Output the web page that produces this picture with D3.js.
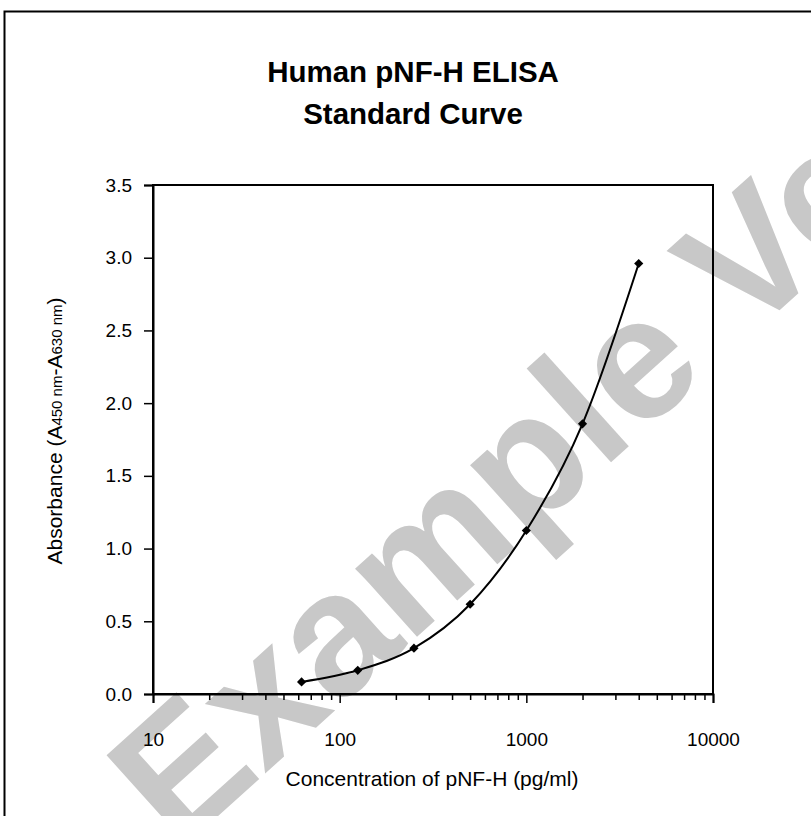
<!DOCTYPE html>
<head>
    <meta charset="utf-8" />
    <script src="https://d3js.org/d3.v7.min.js"></script>
    <style>
        body {
            margin: 0;
            background: #fff;
        }
        svg text {
            font-family: "Liberation Sans", Arial, sans-serif;
            fill: #000;
        }
    </style>
</head>
<body>
<div id="chart"></div>
<script>
    const concentrations = [62.5, 125, 250, 500, 1000, 2000, 4000];
    const absorbances = [0.083, 0.163, 0.315, 0.617, 1.124, 1.858, 2.96];
    const yTicks = [0, 0.5, 1, 1.5, 2, 2.5, 3, 3.5];
    const xTicks = [10, 100, 1000, 10000];
    const titleLines = ["Human pNF-H ELISA", "Standard Curve"];

    const W = 811, H = 816;
    const plot = {left: 153, right: 713, top: 185, bottom: 694};

    const svg = d3.select("#chart")
        .append("svg")
        .attr("width", W)
        .attr("height", H);

    // filigrane
    svg.append("text")
        .attr("transform", "translate(178,852) rotate(-42)")
        .style("font-size", "174px")
        .style("font-weight", "bold")
        .style("fill", "#c8c8c8")
        .text("Example Version");

    // cadre extérieur
    svg.append("rect")
        .attr("x", 4.5).attr("y", 11.5)
        .attr("width", 900).attr("height", 900)
        .attr("fill", "none")
        .attr("stroke", "#000")
        .attr("stroke-width", 2);

    // titre
    svg.selectAll(".title")
        .data(titleLines)
        .enter()
        .append("text")
        .attr("class", "title")
        .attr("x", 413)
        .attr("y", (d, i) => 82 + i * 42)
        .attr("text-anchor", "middle")
        .style("font-size", "29.5px")
        .style("font-weight", "bold")
        .text(d => d);

    const x = d3.scaleLog().domain([10, 10000]).range([plot.left, plot.right]);
    const y = d3.scaleLinear().domain([0, 3.5]).range([plot.bottom, plot.top]);

    // cadre du graphique
    svg.append("rect")
        .attr("x", plot.left).attr("y", plot.top)
        .attr("width", plot.right - plot.left)
        .attr("height", plot.bottom - plot.top)
        .attr("fill", "none")
        .attr("stroke", "#000")
        .attr("stroke-width", 2);

    // axe y
    const yAxis = svg.append("g")
        .attr("transform", "translate(" + plot.left + ",0)")
        .call(d3.axisLeft(y).tickValues(yTicks).tickSize(9).tickPadding(12)
            .tickFormat(d3.format(".1f")));
    yAxis.select(".domain").attr("stroke-width", 2);
    yAxis.selectAll(".tick line").attr("stroke-width", 1.5);
    yAxis.selectAll("text")
        .style("font-size", "19px")
        .attr("font-family", null);

    // axe x : graduations mineures
    const minor = [];
    for (let dec = 10; dec < 10000; dec *= 10) {
        for (let k = 2; k <= 9; k++) minor.push(dec * k);
    }
    svg.append("g")
        .attr("transform", "translate(0," + plot.bottom + ")")
        .call(d3.axisBottom(x).tickValues(minor).tickSize(6).tickFormat(""))
        .call(g => g.select(".domain").remove())
        .selectAll(".tick line").attr("stroke-width", 1.5);

    const xAxis = svg.append("g")
        .attr("transform", "translate(0," + plot.bottom + ")")
        .call(d3.axisBottom(x).tickValues(xTicks).tickSize(9).tickPadding(30)
            .tickFormat(d3.format("d")));
    xAxis.select(".domain").attr("stroke-width", 2);
    xAxis.selectAll(".tick line").attr("stroke-width", 1.5);
    xAxis.selectAll("text")
        .style("font-size", "19px")
        .attr("font-family", null);

    // titres des axes
    svg.append("text")
        .attr("x", 432)
        .attr("y", 786)
        .attr("text-anchor", "middle")
        .style("font-size", "21px")
        .text("Concentration of pNF-H (pg/ml)");

    const yTitle = svg.append("text")
        .attr("transform", "translate(62,431) rotate(-90)")
        .attr("text-anchor", "middle")
        .style("font-size", "21px");
    yTitle.append("tspan").text("Absorbance (A");
    yTitle.append("tspan").style("font-size", "15px").text("450 nm");
    yTitle.append("tspan").text("-A");
    yTitle.append("tspan").style("font-size", "15px").text("630 nm");
    yTitle.append("tspan").text(")");

    // courbe lissée
    const pts = concentrations.map((c, i) => [x(c), y(absorbances[i])]);
    svg.append("path")
        .attr("d", d3.line().curve(d3.curveCatmullRom.alpha(0))(pts))
        .attr("fill", "none")
        .attr("stroke", "#000")
        .attr("stroke-width", 2);

    svg.selectAll(".pt")
        .data(pts)
        .enter()
        .append("path")
        .attr("class", "pt")
        .attr("d", d3.symbol().type(d3.symbolSquare).size(42))
        .attr("transform", d => "translate(" + d[0] + "," + d[1] + ") rotate(45)")
        .attr("fill", "#000");
</script>
</body>
